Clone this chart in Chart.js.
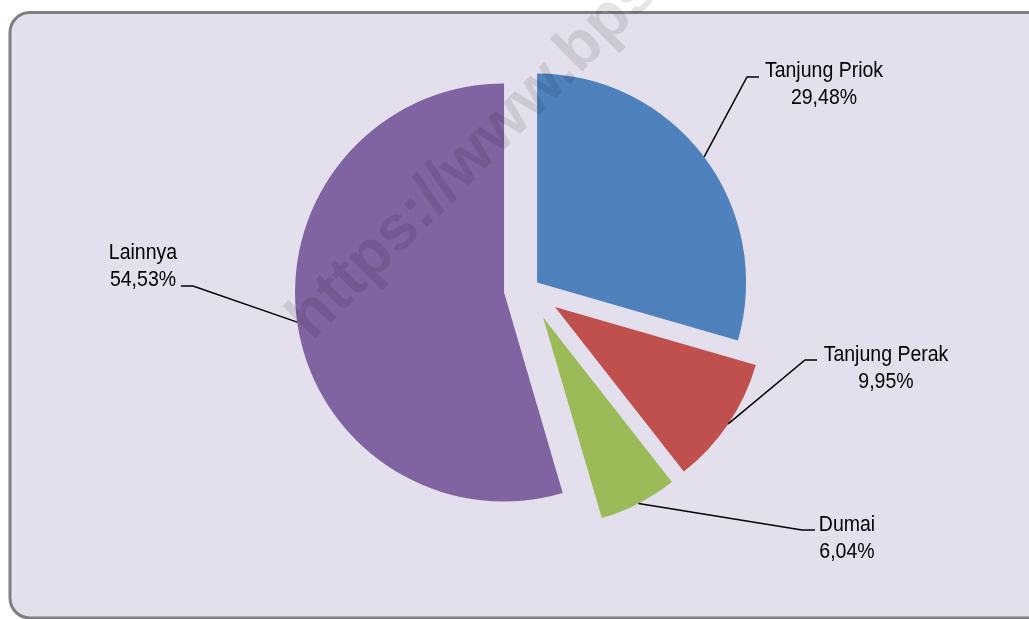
<!DOCTYPE html>
<html>
<head>
<meta charset="utf-8">
<title>Pangsa pelabuhan</title>
<script src="https://cdn.jsdelivr.net/npm/chart.js@4/dist/chart.umd.min.js"></script>
<style>
  html, body { margin: 0; padding: 0; background: #fff; }
  #wrap { position: relative; width: 1029px; height: 619px; }
</style>
</head>
<body>
<div id="wrap">
  <canvas id="myChart" width="1029" height="619"></canvas>
</div>
<script>
// data
var ports = ['Tanjung Priok', 'Tanjung Perak', 'Dumai', 'Lainnya'];
var shares = [29.48, 9.95, 6.04, 54.53];
var sliceColors = ['#4F81BD', '#C0504D', '#9BBB59', '#8064A2'];
// how far each slice is pulled out of the pie, px
var explode = [10.75, 32, 32, 24.7];

// where each callout sits (elbow of leader line, end of short tick, text centre / first baseline)
var callouts = [
    { elbow: [747, 77],  tick: [759, 77],  text: [824, 77] },
    { elbow: [805, 360], tick: [817, 360], text: [886, 361] },
    { elbow: [802, 530], tick: [815, 530], text: [847, 531] },
    { elbow: [193, 286], tick: [181, 286], text: [143, 259] }
];

function pct(v) {
    return v.toFixed(2).replace('.', ',') + '%';
}

var framePlugin = {
    id: 'frame',
    beforeDraw: function(chart) {
        var c = chart.ctx;
        c.save();
        c.beginPath();
        c.roundRect(10, 12.5, 1040, 605.5, 20);
        c.fillStyle = '#E4DFEC';
        c.fill();
        c.lineWidth = 3;
        c.strokeStyle = '#7F7F7F';
        c.stroke();
        c.restore();
    }
};

// pull slices out along their mid angle (chart.js offset also grows the radius, so do it here)
var explodePlugin = {
    id: 'explode',
    beforeDatasetsDraw: function(chart) {
        var meta = chart.getDatasetMeta(0);
        meta.data.forEach(function(arc, i) {
            if (arc._baseX === undefined) {
                arc._baseX = arc.x;
                arc._baseY = arc.y;
            }
            var mid = (arc.startAngle + arc.endAngle) / 2;
            arc.x = arc._baseX + Math.cos(mid) * explode[i];
            arc.y = arc._baseY + Math.sin(mid) * explode[i];
        });
    }
};

function drawText(c, s, x, y) {
    c.save();
    c.translate(x, y);
    c.scale(1, 1.1);
    c.fillText(s, 0, 0);
    c.restore();
}

var calloutPlugin = {
    id: 'callouts',
    afterDatasetsDraw: function(chart) {
        var c = chart.ctx;
        // watermark
        c.save();
        c.translate(312, 342);
        c.rotate(-45 * Math.PI / 180);
        c.font = 'bold 64px "Liberation Sans", Arial, sans-serif';
        c.fillStyle = 'rgba(0,0,0,0.1)';
        c.textAlign = 'left';
        c.textBaseline = 'alphabetic';
        c.fillText('https://www.bps.go.id', 0, 0);
        c.restore();

        var meta = chart.getDatasetMeta(0);
        c.save();
        c.strokeStyle = '#000';
        c.lineWidth = 1.5;
        c.fillStyle = '#000';
        c.font = '19.5px "Liberation Sans", Arial, sans-serif';
        c.textAlign = 'center';
        c.textBaseline = 'alphabetic';
        meta.data.forEach(function(arc, i) {
            var mid = (arc.startAngle + arc.endAngle) / 2;
            var ax = arc.x + Math.cos(mid) * arc.outerRadius;
            var ay = arc.y + Math.sin(mid) * arc.outerRadius;
            var co = callouts[i];
            c.beginPath();
            c.moveTo(ax, ay);
            c.lineTo(co.elbow[0], co.elbow[1]);
            c.lineTo(co.tick[0], co.tick[1]);
            c.stroke();
            drawText(c, ports[i], co.text[0], co.text[1]);
            drawText(c, pct(shares[i]), co.text[0], co.text[1] + 27);
        });
        c.restore();
    }
};

var ctx = document.getElementById('myChart');
var myChart = new Chart(ctx, {
    type: 'pie',
    data: {
        labels: ports,
        datasets: [{
            data: shares,
            backgroundColor: sliceColors,
            borderWidth: 0,
            radius: 209
        }]
    },
    options: {
        responsive: false,
        animation: false,
        devicePixelRatio: 1,
        layout: { padding: { left: 28, right: 0, top: 0, bottom: 41 } },
        plugins: {
            legend: { display: false },
            tooltip: { enabled: false }
        }
    },
    plugins: [framePlugin, explodePlugin, calloutPlugin]
});
</script>
</body>
</html>
